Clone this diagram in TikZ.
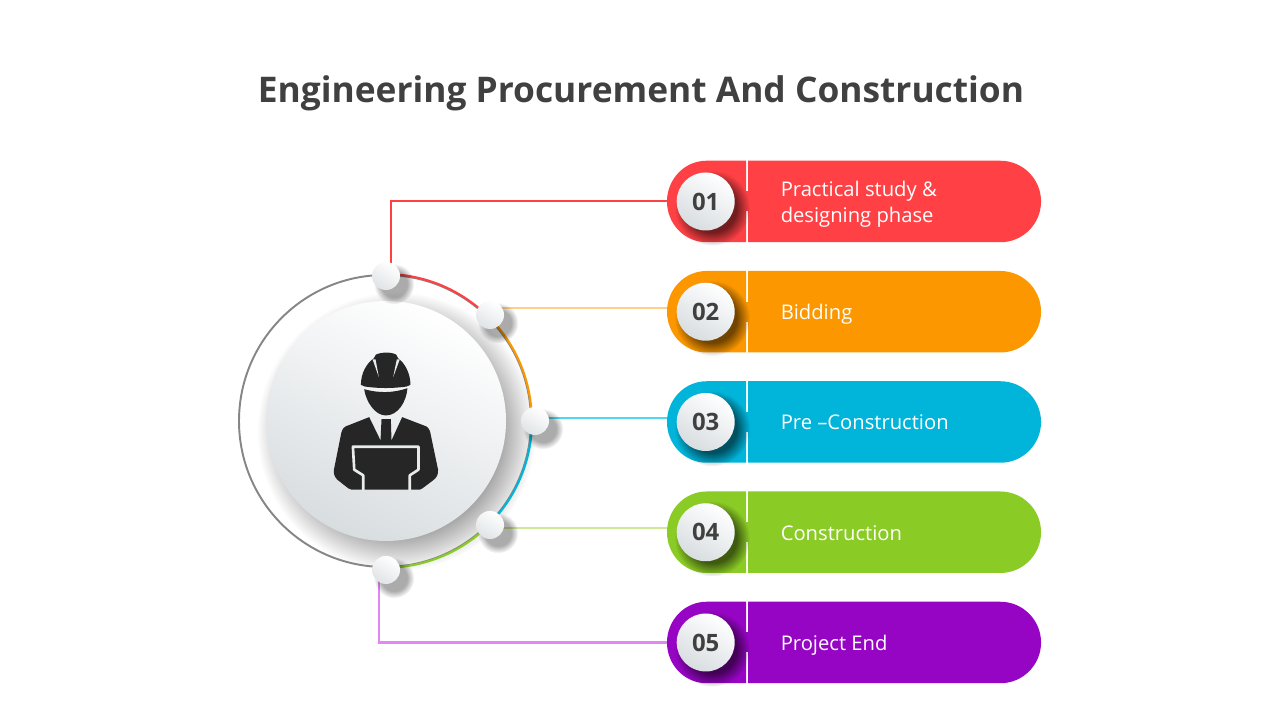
\documentclass[tikz,border=0pt]{standalone}
\usepackage{fontspec}
\setmainfont{Open Sans}
\usetikzlibrary{arrows.meta,positioning,shapes.misc,shadows,fadings}
\definecolor{inkgrey}{HTML}{404040}
\definecolor{ringgrey}{HTML}{868686}
\definecolor{sphereshade}{HTML}{D8DDE0}
\definecolor{iconblack}{HTML}{262626}
\definecolor{pillred}{HTML}{FF4145}
\definecolor{pillorange}{HTML}{FC9700}
\definecolor{pillcyan}{HTML}{00B4DA}
\definecolor{pillgreen}{HTML}{8BCB25}
\definecolor{pillpurple}{HTML}{9605C4}
\definecolor{linkorange}{HTML}{FFD08A}
\definecolor{linkcyan}{HTML}{4DD8F0}
\definecolor{linkgreen}{HTML}{CFE89A}
\definecolor{linkpurple}{HTML}{E286F7}
\pgfdeclareradialshading{softshade}{\pgfpoint{0bp}{0bp}}{color(0bp)=(pgftransparent!0); color(16bp)=(pgftransparent!0); color(25bp)=(pgftransparent!100); color(50bp)=(pgftransparent!100)}
\pgfdeclarefading{softcircle}{\pgfuseshading{softshade}}

\begin{document}
\begin{tikzpicture}[
    softshadow/.style n args={3}{drop shadow={shadow xshift=#1, shadow yshift=-#1, shadow scale=#2, opacity=#3, fill=black, path fading=softcircle}},
    head/.style={rounded rectangle, rounded rectangle east arc=none, xscale=0.97, minimum height=0.815cm, inner sep=0pt, outer sep=0pt},
    body/.style={rounded rectangle, rounded rectangle west arc=none, minimum width=2.93cm, minimum height=0.815cm, inner sep=0pt, outer sep=0pt},
    bridge/.style={rectangle, minimum width=0.08cm, minimum height=0.2cm, inner sep=0pt},
    sphere/.style={circle, minimum size=0.58cm, inner sep=0pt, top color=white, bottom color=sphereshade, shading angle=-30, softshadow={0.05cm}{1.3}{0.55}, font=\fontsize{6.8}{8}\selectfont\bfseries, text=inkgrey},
    dot/.style={circle, minimum size=0.28cm, inner sep=0pt, top color=white, bottom color=sphereshade!80!white, shading angle=-30, softshadow={0.055cm}{1.45}{0.33}},
    label/.style={align=left, inner sep=0pt, text=white, font=\fontsize{5.75}{7.4}\selectfont},
    oneline/.style={text height=0.16cm, text depth=0cm},
    link/.style={line width=0.58pt}]

    \useasboundingbox (0,0) rectangle (12.8,7.2);

    \node[font=\fontsize{10.05}{12}\selectfont\bfseries, text=inkgrey] (title) at (6.41,6.27) {Engineering Procurement And Construction};

    % pills
    \node[head, fill=pillred] (head1) at (7.065,5.185) {};
    \node[head, fill=pillorange, below=0.2875cm of head1] (head2) {};
    \node[head, fill=pillcyan, below=0.2875cm of head2] (head3) {};
    \node[head, fill=pillgreen, below=0.2875cm of head3] (head4) {};
    \node[head, fill=pillpurple, below=0.2875cm of head4] (head5) {};

    \node[body, fill=pillred, right=0.02cm of head1] (body1) {};
    \node[body, fill=pillorange, right=0.02cm of head2] (body2) {};
    \node[body, fill=pillcyan, right=0.02cm of head3] (body3) {};
    \node[body, fill=pillgreen, right=0.02cm of head4] (body4) {};
    \node[body, fill=pillpurple, right=0.02cm of head5] (body5) {};

    \node[bridge, fill=pillred, right=-0.03cm of head1.east] (bridge1) {};
    \node[bridge, fill=pillorange, right=-0.03cm of head2.east] (bridge2) {};
    \node[bridge, fill=pillcyan, right=-0.03cm of head3.east] (bridge3) {};
    \node[bridge, fill=pillgreen, right=-0.03cm of head4.east] (bridge4) {};
    \node[bridge, fill=pillpurple, right=-0.03cm of head5.east] (bridge5) {};

    \node[sphere, right=0.09cm of head1.west] (sphere1) {01};
    \node[sphere, right=0.09cm of head2.west] (sphere2) {02};
    \node[sphere, right=0.09cm of head3.west] (sphere3) {03};
    \node[sphere, right=0.09cm of head4.west] (sphere4) {04};
    \node[sphere, right=0.09cm of head5.west] (sphere5) {05};

    \node[label, right=0.32cm of body1.west, yshift=-0.03cm] (label1) {Practical study \&\\designing phase};
    \node[label, oneline, right=0.32cm of body2.west] (label2) {Bidding};
    \node[label, oneline, right=0.32cm of body3.west] (label3) {Pre --Construction};
    \node[label, oneline, right=0.32cm of body4.west] (label4) {Construction};
    \node[label, oneline, right=0.32cm of body5.west] (label5) {Project End};

    % disc first, so its shadow stays under the ring
    \node[circle, minimum size=2.40cm, inner sep=0pt, top color=white, bottom color=sphereshade, shading angle=-25, softshadow={0.09cm}{1.16}{0.5}] (disc) at (3.86,2.99) {};

    % ring and arcs
    \node[circle, draw=ringgrey, line width=0.55pt, minimum size=2.92cm, inner sep=0pt] (ring) at (3.85,2.99) {};
    \draw[pillred, line width=0.6pt] (ring.90) arc[start angle=90, end angle=45, radius=1.46cm];
    \draw[pillorange, line width=0.6pt] (ring.45) arc[start angle=45, end angle=0, radius=1.46cm];
    \draw[pillcyan, line width=0.6pt] (ring.0) arc[start angle=0, end angle=-45, radius=1.46cm];
    \draw[pillgreen, line width=0.6pt] (ring.-45) arc[start angle=-45, end angle=-90, radius=1.46cm];

    % connectors
    \coordinate (from1) at (3.91,4.45);
    \coordinate (from2) at (5.00,4.12);
    \coordinate (from3) at (5.45,3.02);
    \coordinate (from4) at (5.00,1.92);
    \coordinate (from5) at (3.79,1.40);
    \draw[link, draw=pillred] (from1) |- (head1.west);
    \draw[link, draw=linkorange] (from2) -- (from2 -| head2.west);
    \draw[link, draw=linkcyan] (from3) -- (from3 -| head3.west);
    \draw[link, draw=linkgreen] (from4) -- (from4 -| head4.west);
    \draw[link, draw=linkpurple] (from5) |- (head5.west);

    \node[dot] (dot1) at (3.86,4.44) {};
    \node[dot] (dot2) at (4.90,4.05) {};
    \node[dot] (dot3) at (5.35,2.99) {};
    \node[dot] (dot4) at (4.90,1.95) {};
    \node[dot] (dot5) at (3.86,1.50) {};

    % worker icon
    \begin{scope}[shift={(3.10,3.90)}, x=0.00333cm, y=-0.00333cm]
        \fill[iconblack] (153,165) .. controls (153,130) and (170,100) .. (192,85) -- (198,74) .. controls (215,66) and (245,66) .. (259,74) -- (265,85) .. controls (285,100) and (302,130) .. (302,165) -- (290,170) .. controls (250,176) and (205,176) .. (165,170) -- cycle;
        \fill[sphereshade!60!white] (188,88) -- (197,88) -- (207,142) -- cycle;
        \fill[sphereshade!60!white] (270,88) -- (261,88) -- (250,142) -- cycle;
        \fill[iconblack] (163,178) .. controls (205,190) and (250,190) .. (293,175) .. controls (290,215) and (265,257) .. (228,257) .. controls (195,257) and (168,215) .. (163,178) -- cycle;
        \fill[iconblack] (178,262) -- (212,332) -- (215,268) -- (243,268) -- (245,332) -- (277,262) -- (350,290) .. controls (358,295) and (362,305) .. (364,320) -- (385,420) .. controls (386,435) and (380,445) .. (370,452) -- (338,476) -- (330,480) -- (125,480) -- (115,476) -- (82,450) .. controls (74,442) and (70,432) .. (72,420) -- (92,320) .. controls (94,305) and (98,295) .. (107,290) -- cycle;
        \draw[sphereshade!60!white, line width=0.75pt, line join=round] (160,482) -- (160,437) -- (133,420) -- (129,351) -- (326,351) -- (326,420) -- (300,437) -- (300,482);
    \end{scope}
\end{tikzpicture}
\end{document}
